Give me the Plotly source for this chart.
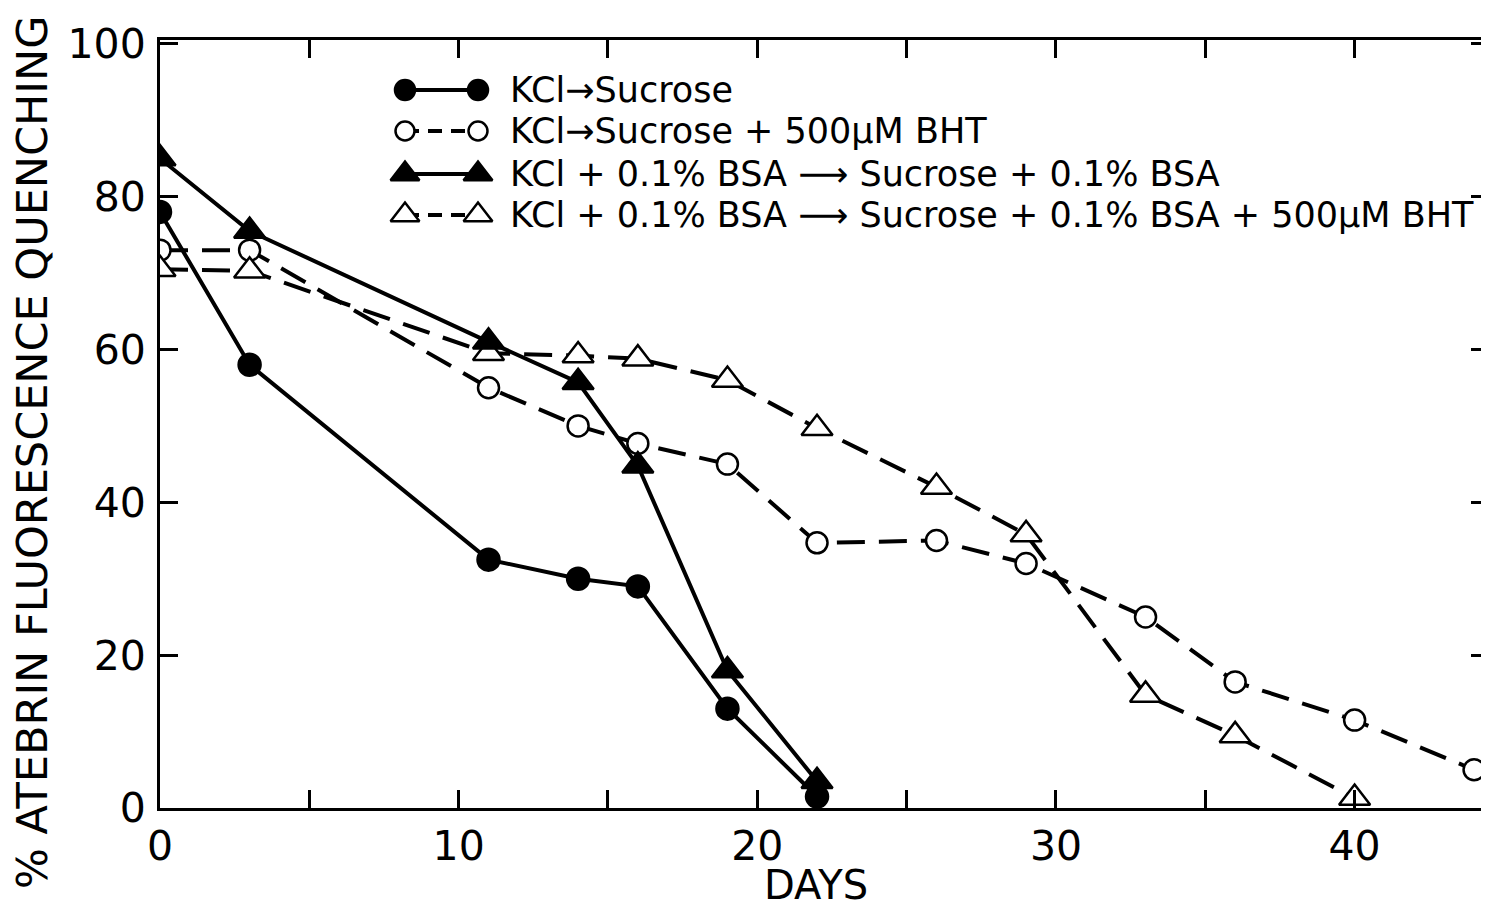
import plotly.graph_objects as go

# Data
days_kcl = [0, 3, 11, 14, 16, 19, 22]
q_kcl = [78, 58, 32.5, 30, 29, 13, 1.5]

days_bht = [0, 3, 11, 14, 16, 19, 22, 26, 29, 33, 36, 40, 44]
q_bht = [73, 73, 55, 50, 47.7, 45, 34.7, 35, 32, 25, 16.5, 11.5, 5]

days_bsa = [0, 3, 11, 14, 16, 19, 22]
q_bsa = [85, 75.5, 61, 55.7, 44.8, 18, 3.5]

days_bsa_bht = [0, 3, 11, 14, 16, 19, 22, 26, 29, 33, 36, 40]
q_bsa_bht = [70.5, 70.3, 59.5, 59.2, 58.8, 56, 49.7, 42, 35.8, 14.8, 9.5, 1.3]

names = [
    "KCl\u2192Sucrose",
    "KCl\u2192Sucrose + 500\u00b5M BHT",
    "KCl + 0.1% BSA \u27f6 Sucrose + 0.1% BSA",
    "KCl + 0.1% BSA \u27f6 Sucrose + 0.1% BSA + 500\u00b5M BHT",
]
x_ticks = [0, 10, 20, 30, 40]
y_ticks = [0, 20, 40, 60, 80, 100]

FONT = "DejaVu Sans"
DASH = "28px,14px"
OFF = 8  # page body margin
VW, VH = 1489, 909
# desired plot-area edges in page pixels
PL, PR, PT, PB = 160, 1489, 40, 808
W, H = VW - OFF, VH - OFF
L, T = PL - OFF, PT - OFF
R = W - (PR - OFF)
B = H - (PB - OFF)
PW, PH = PR - PL, PB - PT

styles = [
    dict(dash="solid", symbol="circle", fill="black", size=22),
    dict(dash=DASH, symbol="circle", fill="white", size=21),
    dict(dash="solid", symbol="triangle-up", fill="black", size=27),
    dict(dash=DASH, symbol="triangle-up", fill="white", size=27),
]
series = [(days_kcl, q_kcl), (days_bht, q_bht), (days_bsa, q_bsa), (days_bsa_bht, q_bsa_bht)]

fig = go.Figure()
for i in [1, 3, 0, 2]:
    st = styles[i]
    xs, ys = series[i]
    fig.add_trace(go.Scatter(
        x=xs, y=ys, name=names[i], mode="lines+markers", showlegend=False,
        line=dict(color="black", width=4, dash=st["dash"]),
        marker=dict(symbol=st["symbol"], size=st["size"], color=st["fill"],
                    line=dict(color="black", width=2.5))))

# Custom legend (marker-line-marker samples) on a page-pixel overlay axis
leg_rows = [90, 131, 174, 215]
leg_x0, leg_x1, leg_text_x = 405, 478, 508
for i, yy in enumerate(leg_rows):
    st = styles[i]
    fig.add_trace(go.Scatter(
        x=[leg_x0, leg_x1], y=[yy, yy], xaxis="x2", yaxis="y2", mode="lines+markers",
        showlegend=False, hoverinfo="skip",
        line=dict(color="black", width=4, dash="14px,9px" if st["dash"] != "solid" else "solid"),
        marker=dict(symbol=st["symbol"], size=st["size"] - 2, color=st["fill"],
                    line=dict(color="black", width=2.5))))
    fig.add_annotation(xref="x2", yref="y2", x=leg_text_x, y=yy, text=names[i],
                       showarrow=False, xanchor="left", yanchor="middle",
                       font=dict(size=35, family=FONT, color="black"))

# Axis titles as annotations (page pixel positions converted to paper)
fig.add_annotation(xref="paper", yref="paper", x=(32 - PL) / PW, y=(PB - 452) / PH,
                   text="% ATEBRIN FLUORESCENCE QUENCHING", textangle=-90, showarrow=False,
                   xanchor="center", yanchor="middle", font=dict(size=43, family=FONT, color="black"))
fig.add_annotation(xref="paper", yref="paper", x=(816 - PL) / PW, y=(PB - 885) / PH,
                   text="DAYS", showarrow=False, xanchor="center", yanchor="middle",
                   font=dict(size=40, family=FONT, color="black"))

axis_common = dict(showline=True, linecolor="black", linewidth=3, mirror="ticks",
                   ticks="inside", ticklen=18, tickwidth=2.5, tickcolor="black",
                   showgrid=False, zeroline=False, automargin=False,
                   tickfont=dict(size=41, family=FONT, color="black"))

fig.update_layout(
    width=W, height=H,
    margin=dict(l=L, r=R, t=T, b=B, autoexpand=False),
    paper_bgcolor="white", plot_bgcolor="white",
    font=dict(family=FONT, color="black", size=36),
    showlegend=False,
    xaxis=dict(range=[0, 44.5], tickmode="array", tickvals=x_ticks,
               ticktext=[str(v) for v in x_ticks],
               minor=dict(ticks="inside", dtick=5, tick0=0, ticklen=18, tickwidth=2.5, tickcolor="black"),
               **axis_common),
    yaxis=dict(range=[0, 100.5], tickmode="array", tickvals=y_ticks,
               ticktext=[str(v) for v in y_ticks], ticklabelstandoff=3,
               **axis_common),
    xaxis2=dict(overlaying="x", anchor="y2", range=[PL, PR], visible=False, fixedrange=True),
    yaxis2=dict(overlaying="y", anchor="x2", range=[PB, PT], visible=False, fixedrange=True),
)

fig.write_html("out.html")
